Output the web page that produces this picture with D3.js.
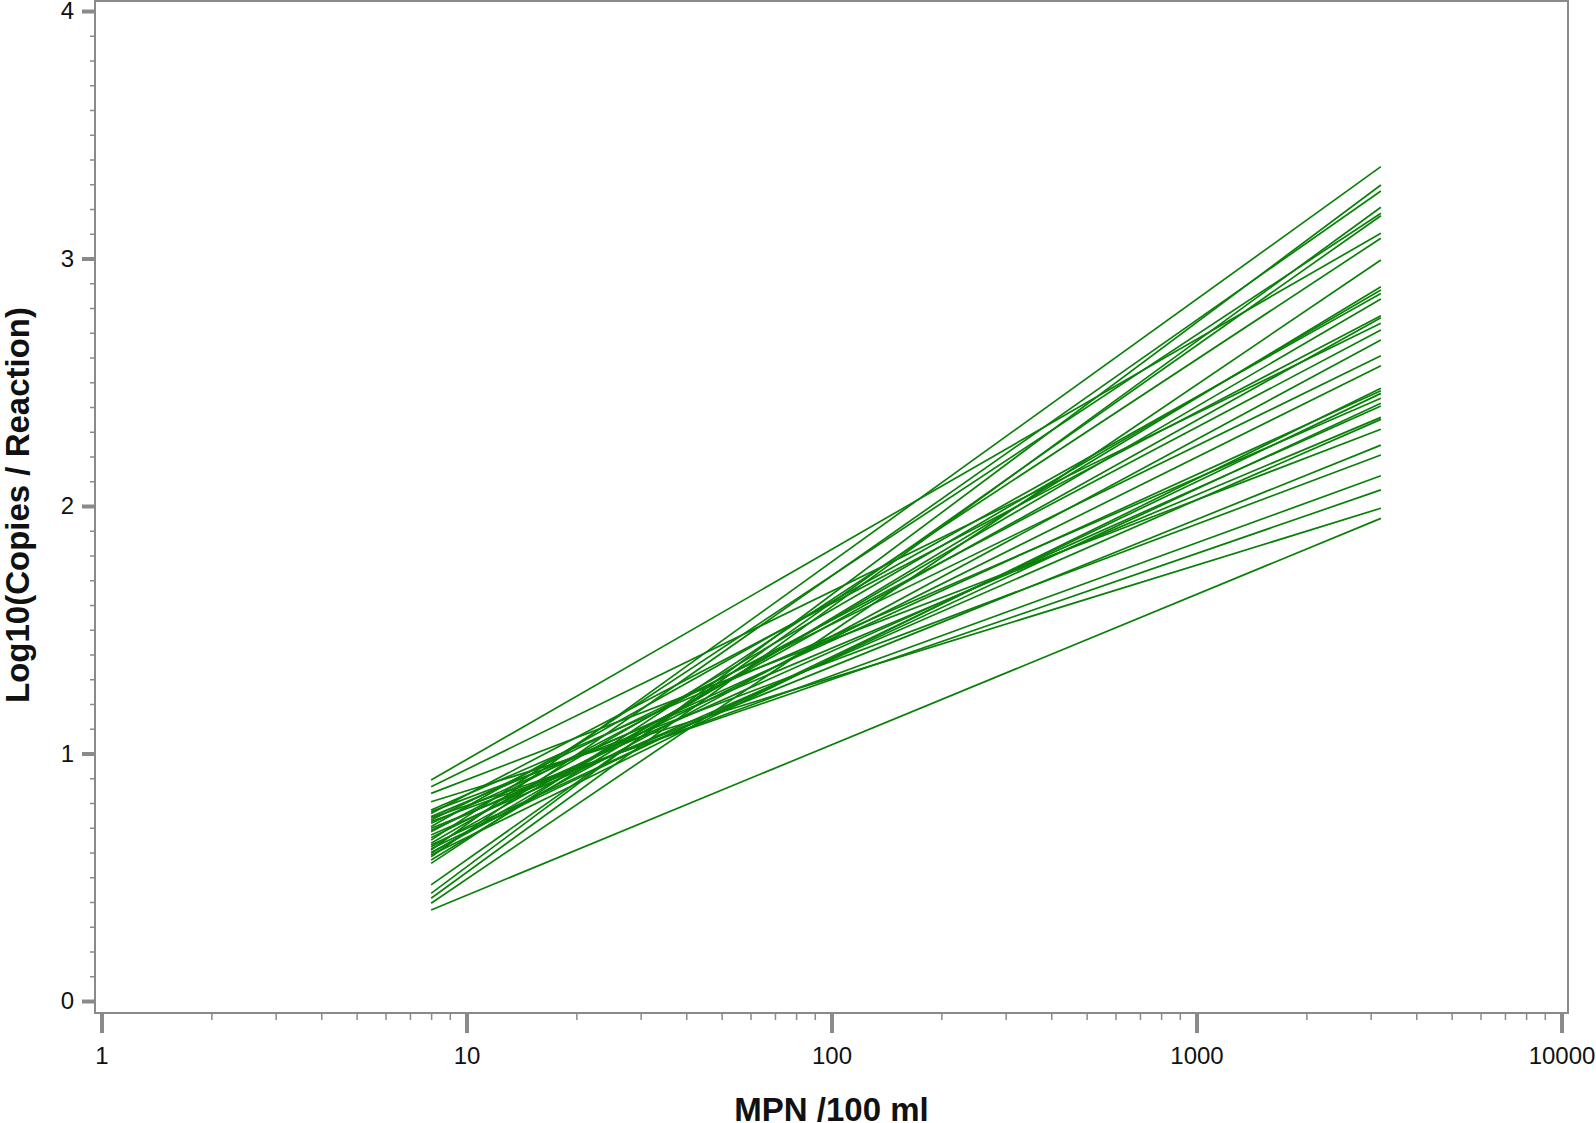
<!DOCTYPE html>
<html>
<head>
<meta charset="utf-8">
<script src="https://cdn.jsdelivr.net/npm/d3@7"></script>
<style>
  body { margin: 0; background: #fff; }
  svg { display: block; }
  text { font-family: "Liberation Sans", Arial, sans-serif; }
</style>
</head>
<body>
<svg id="chart"></svg>
<script>
// MPN range covered by every fitted line
const mpnRange = [8, 3200];

// log10 copies/reaction at the low end (MPN = 8) of each line
const startLog = [
  0.610, 0.435, 0.583, 0.415, 0.650, 0.469, 0.893, 0.556, 0.395,
  0.570, 0.637, 0.705, 0.597, 0.758, 0.623, 0.866, 0.684, 0.600, 0.731, 0.660,
  0.590, 0.718, 0.615, 0.772, 0.630, 0.690, 0.745, 0.671, 0.839, 0.698,
  0.765, 0.725, 0.740, 0.805, 0.368
];

// log10 copies/reaction at the high end (MPN = 3200) of each line
const endLog = [
  3.371, 3.297, 3.273, 3.207, 3.183, 3.173, 3.102, 3.082, 2.994,
  2.886, 2.873, 2.859, 2.836, 2.769, 2.761, 2.738, 2.711, 2.671, 2.607, 2.567,
  2.476, 2.466, 2.455, 2.435, 2.415, 2.404, 2.358, 2.350, 2.310, 2.246,
  2.206, 2.122, 2.065, 1.991, 1.950
];

const xTickValues = [1, 10, 100, 1000, 10000];
const yTickValues = [0, 1, 2, 3, 4];

const xTitle = 'MPN /100 ml';
const yTitle = 'Log10(Copies / Reaction)';

const W = 1596, H = 1123;
const frame = { left: 95, right: 1568, top: 1, bottom: 1013 };
const axisGrey = '#8a8a8a';

const svg = d3.select('#chart').attr('width', W).attr('height', H);

const x = d3.scaleLog().domain([1, 10000]).range([101.5, 1561.5]);
const y = d3.scaleLinear().domain([0, 4]).range([1001, 11]);

// frame
svg.append('rect')
  .attr('x', frame.left).attr('y', frame.top)
  .attr('width', frame.right - frame.left)
  .attr('height', frame.bottom - frame.top)
  .attr('fill', 'none')
  .attr('stroke', axisGrey)
  .attr('stroke-width', 2);

// x axis: minor ticks
const xMinor = x.ticks().filter(v => !xTickValues.includes(v));
svg.append('g')
  .attr('transform', `translate(0,${frame.bottom})`)
  .call(d3.axisBottom(x).tickValues(xMinor).tickSize(7).tickFormat(''))
  .call(g => g.select('.domain').remove())
  .call(g => g.selectAll('line').attr('stroke', axisGrey).attr('stroke-width', 1.5));

// x axis: major ticks + labels
svg.append('g')
  .attr('transform', `translate(0,${frame.bottom})`)
  .call(d3.axisBottom(x).tickValues(xTickValues).tickSize(20).tickPadding(14).tickFormat(d3.format('d')))
  .call(g => g.select('.domain').remove())
  .call(g => g.selectAll('line').attr('stroke', axisGrey).attr('stroke-width', 4))
  .call(g => g.selectAll('text')
    .attr('font-size', 24)
    .attr('font-family', '"Liberation Sans", Arial, sans-serif')
    .attr('fill', '#111'));

// y axis: minor ticks
const yMinor = d3.range(1, 40).filter(i => i % 10 !== 0).map(i => i / 10);
svg.append('g')
  .attr('transform', `translate(${frame.left},0)`)
  .call(d3.axisLeft(y).tickValues(yMinor).tickSize(5).tickFormat(''))
  .call(g => g.select('.domain').remove())
  .call(g => g.selectAll('line').attr('stroke', axisGrey).attr('stroke-width', 1.5));

// y axis: major ticks + labels
svg.append('g')
  .attr('transform', `translate(${frame.left},0)`)
  .call(d3.axisLeft(y).tickValues(yTickValues).tickSize(13).tickPadding(8).tickFormat(d3.format('d')))
  .call(g => g.select('.domain').remove())
  .call(g => g.selectAll('line').attr('stroke', axisGrey).attr('stroke-width', 4))
  .call(g => g.selectAll('text')
    .attr('font-size', 24)
    .attr('font-family', '"Liberation Sans", Arial, sans-serif')
    .attr('fill', '#111'));

// fitted lines
const lines = startLog.map((s, i) => [[mpnRange[0], s], [mpnRange[1], endLog[i]]]);
const lineGen = d3.line().x(d => x(d[0])).y(d => y(d[1]));

svg.append('g')
  .selectAll('path')
  .data(lines)
  .enter()
  .append('path')
  .attr('d', lineGen)
  .attr('fill', 'none')
  .attr('stroke', '#0a800a')
  .attr('stroke-width', 1.7);

// axis titles
svg.append('text')
  .attr('x', (frame.left + frame.right) / 2)
  .attr('y', 1121)
  .attr('text-anchor', 'middle')
  .attr('font-size', 33)
  .attr('font-weight', 'bold')
  .attr('fill', '#111')
  .text(xTitle);

svg.append('text')
  .attr('transform', 'translate(29,505) rotate(-90)')
  .attr('text-anchor', 'middle')
  .attr('font-size', 33)
  .attr('font-weight', 'bold')
  .attr('fill', '#111')
  .text(yTitle);
</script>
</body>
</html>
